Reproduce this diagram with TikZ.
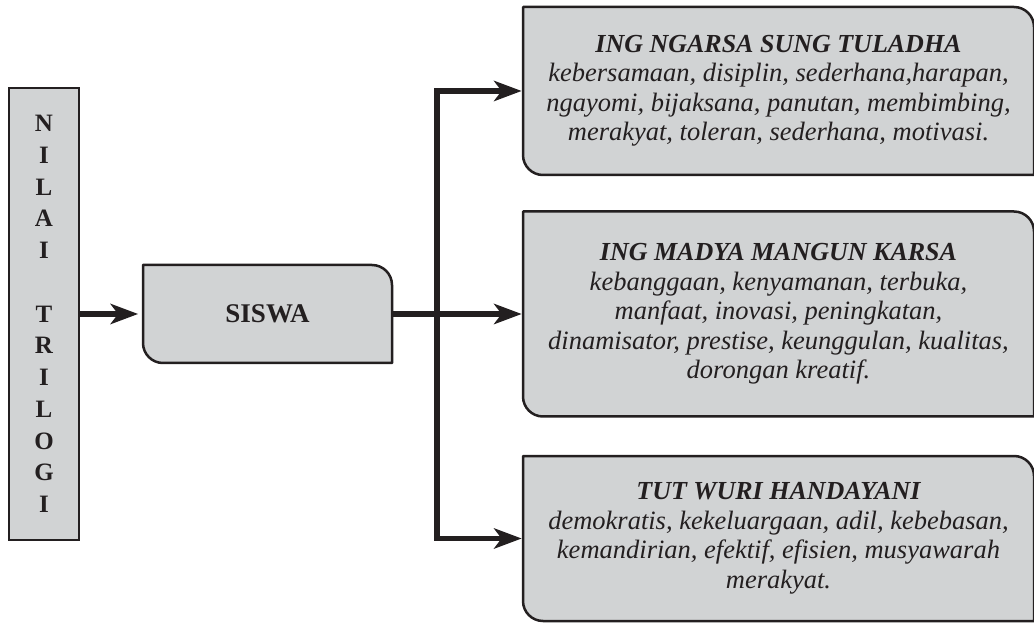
\documentclass[tikz,border=0pt]{standalone}
\usepackage{fontspec}
\setmainfont{Liberation Serif}
\usetikzlibrary{arrows.meta,backgrounds}

\definecolor{ink}{HTML}{231F20}
\definecolor{panel}{HTML}{D1D3D4}

\tikzset{
  box/.style={inner sep=0pt, outer sep=0pt, align=center, text=ink},
  items/.style={box, minimum width=511pt, font=\fontsize{26.5}{29.5}\selectfont\itshape},
  frame/.style={fill=panel, draw=ink, line width=2.5pt, line join=round},
  flow/.style={draw=ink, line width=5.5pt, line join=miter,
    -{Stealth[length=28pt, width=21pt, inset=8pt, line width=0pt]}},
}

\begin{document}
\begin{tikzpicture}[x=1pt, y=1pt]
\useasboundingbox (0,0) rectangle (1034,622);

% vertical title column
\node[box, minimum width=70pt, minimum height=452pt,
      font=\fontsize{25}{31.75}\selectfont\bfseries] (nilai) at (44,308)
  {N\\I\\L\\A\\I\\\mbox{}\\T\\R\\I\\L\\O\\G\\I};

% central node
\node[box, minimum width=249pt, minimum height=98pt,
      font=\fontsize{27}{30}\selectfont\bfseries] (siswa) at (267.5,308) {SISWA};

% the three principles
\node[items, minimum height=168pt] (ngarsa) at (778.5,531)
  {{\fontsize{26}{29.5}\selectfont\bfseries ING NGARSA SUNG TULADHA}\\
   kebersamaan, disiplin, sederhana,harapan,\\
   ngayomi, bijaksana, panutan, membimbing,\\
   merakyat, toleran, sederhana, motivasi.};

\node[items, minimum height=205pt] (madya) at (778.5,308)
  {{\fontsize{26}{29.5}\selectfont\bfseries ING MADYA MANGUN KARSA}\\
   kebanggaan, kenyamanan, terbuka,\\
   manfaat, inovasi, peningkatan,\\
   dinamisator, prestise, keunggulan, kualitas,\\
   dorongan kreatif.};

\node[items, minimum height=165pt] (wuri) at (778.5,83.5)
  {{\fontsize{26}{29.5}\selectfont\bfseries TUT WURI HANDAYANI}\\
   demokratis, kekeluargaan, adil, kebebasan,\\
   kemandirian, efektif, efisien, musyawarah\\
   merakyat.};

% box outlines, behind the text
\begin{scope}[on background layer]
  \clip (0,0) rectangle (1034,622);
  \filldraw[frame, line join=miter] (nilai.south west) rectangle (nilai.north east);
  \foreach \b in {siswa, ngarsa, madya, wuri}
    \filldraw[frame] (\b.north west)
      -- ([xshift=-20pt]\b.north east) arc[start angle=90, end angle=0, radius=20pt]
      -- (\b.south east)
      -- ([xshift=20pt]\b.south west) arc[start angle=270, end angle=180, radius=20pt]
      -- cycle;
\end{scope}

% connectors
\coordinate (split) at (437,308);
\draw[flow, shorten >=5pt] (nilai.east) -- (siswa.west);
\draw[flow, shorten >=1.5pt] (siswa.east) -- (madya.west);
\draw[flow, shorten >=1.5pt] (split) |- (ngarsa.west);
\draw[flow, shorten >=1.5pt] (split) |- (wuri.west);
\end{tikzpicture}
\end{document}
